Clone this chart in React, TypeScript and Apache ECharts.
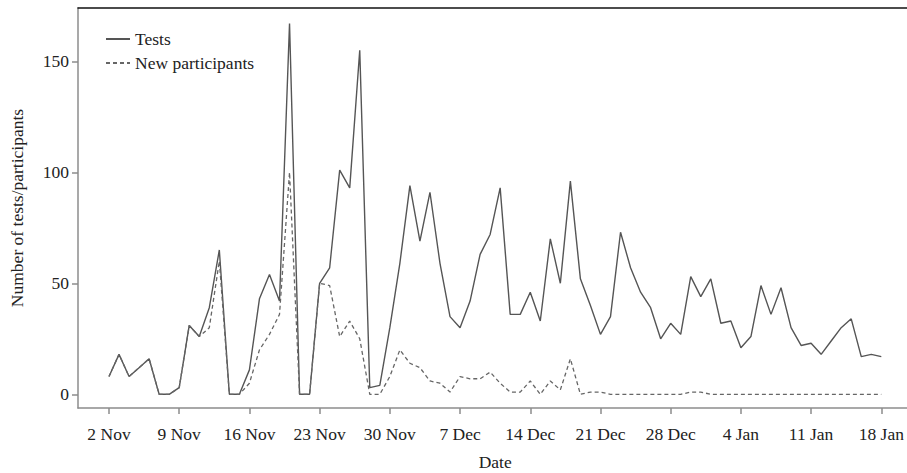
import React, { useEffect, useRef } from 'react';
import * as echarts from 'echarts';

// Day offsets are counted from 2 Nov (day 0) to 18 Jan (day 77)
const tickDays = [0, 7, 14, 21, 28, 35, 42, 49, 56, 63, 70, 77];
const tickLabels = ['2 Nov', '9 Nov', '16 Nov', '23 Nov', '30 Nov', '7 Dec', '14 Dec', '21 Dec', '28 Dec', '4 Jan', '11 Jan', '18 Jan'];
const yTicks = [0, 50, 100, 150];

const tests = [
  8, 18, 8, 12, 16, 0, 0, 3, 31, 26,
  39, 65, 0, 0, 11, 43, 54, 42, 167, 0,
  0, 50, 57, 101, 93, 155, 3, 4, 30, 59,
  94, 69, 91, 59, 35, 30, 42, 63, 72, 93,
  36, 36, 46, 33, 70, 50, 96, 52, 40, 27,
  35, 73, 57, 46, 39, 25, 32, 27, 53, 44,
  52, 32, 33, 21, 26, 49, 36, 48, 30, 22,
  23, 18, 24, 30, 34, 17, 18, 17,
];

const newParticipants = [
  8, 18, 8, 12, 16, 0, 0, 3, 31, 26,
  30, 60, 0, 0, 5, 20, 27, 36, 100, 0,
  0, 50, 49, 26, 33, 25, 0, 0, 8, 20,
  14, 12, 6, 5, 1, 8, 7, 7, 10, 5,
  1, 1, 6, 0, 6, 2, 16, 0, 1, 1,
  0, 0, 0, 0, 0, 0, 0, 0, 1, 1,
  0, 0, 0, 0, 0, 0, 0, 0, 0, 0,
  0, 0, 0, 0, 0, 0, 0, 0,
];

const FONT = "'Liberation Serif', 'Times New Roman', serif";

export default function App() {
  const ref = useRef<HTMLDivElement>(null);

  useEffect(() => {
    document.body.style.margin = '0';
    const chart = echarts.init(ref.current as HTMLDivElement, null, { renderer: 'svg' });
    const axisGray = '#8c8c8c';
    const xMin = -3.09;
    const xMax = 80.09;
    chart.setOption({
      animation: false,
      backgroundColor: '#ffffff',
      grid: { left: 78, top: 8, right: -5.3, bottom: 65, containLabel: false, outerBoundsMode: 'none' },
      legend: {
        orient: 'vertical',
        left: 100,
        top: 25,
        itemWidth: 24,
        itemHeight: 14,
        itemGap: 6,
        data: ['Tests', 'New participants'],
        itemStyle: { opacity: 0, borderWidth: 0 },
        textStyle: { fontFamily: FONT, fontSize: 17.5, color: '#222' },
      },
      xAxis: [
        {
          type: 'value',
          min: xMin,
          max: xMax,
          axisLine: { show: true, onZero: false, lineStyle: { color: axisGray, width: 1.5 } },
          axisTick: { show: true, customValues: tickDays, length: 6, lineStyle: { color: axisGray, width: 1.5 } },
          axisLabel: {
            customValues: tickDays,
            formatter: (v: number) => tickLabels[tickDays.indexOf(v)] ?? '',
            margin: 17,
            fontFamily: FONT,
            fontSize: 17.5,
            color: '#222',
          },
          splitLine: { show: false },
          name: 'Date',
          nameLocation: 'middle',
          nameGap: 45,
          nameTextStyle: { fontFamily: FONT, fontSize: 17.5, color: '#222' },
        },
        {
          type: 'value',
          position: 'top',
          min: xMin,
          max: xMax,
          axisLine: { show: true, onZero: false, lineStyle: { color: '#111', width: 1.5 } },
          axisTick: { show: false },
          axisLabel: { show: false },
          splitLine: { show: false },
        },
      ],
      yAxis: {
        type: 'value',
        min: -6.17,
        max: 174,
        axisLine: { show: true, onZero: false, lineStyle: { color: axisGray, width: 1.5 } },
        axisTick: { show: true, customValues: yTicks, length: 6, lineStyle: { color: axisGray, width: 1.5 } },
        axisLabel: {
          customValues: yTicks,
          margin: 9,
          fontFamily: FONT,
          fontSize: 17.5,
          color: '#222',
        },
        splitLine: { show: false },
        name: 'Number of tests/participants',
        nameLocation: 'middle',
        nameGap: 52,
        nameTextStyle: { fontFamily: FONT, fontSize: 17.5, color: '#222' },
      },
      series: [
        {
          name: 'Tests',
          type: 'line',
          xAxisIndex: 0,
          data: tests.map((v, i) => [i, v]),
          symbol: 'none',
          showSymbol: false,
          lineStyle: { color: '#555', width: 1.4, type: 'solid' },
          itemStyle: { color: '#555' },
        },
        {
          name: 'New participants',
          type: 'line',
          xAxisIndex: 0,
          data: newParticipants.map((v, i) => [i, v]),
          symbol: 'none',
          showSymbol: false,
          lineStyle: { color: '#666', width: 1.3, type: [4, 3] },
          itemStyle: { color: '#666' },
        },
      ],
    });
    return () => chart.dispose();
  }, []);

  return <div ref={ref} style={{ width: 907, height: 473 }} />;
}
